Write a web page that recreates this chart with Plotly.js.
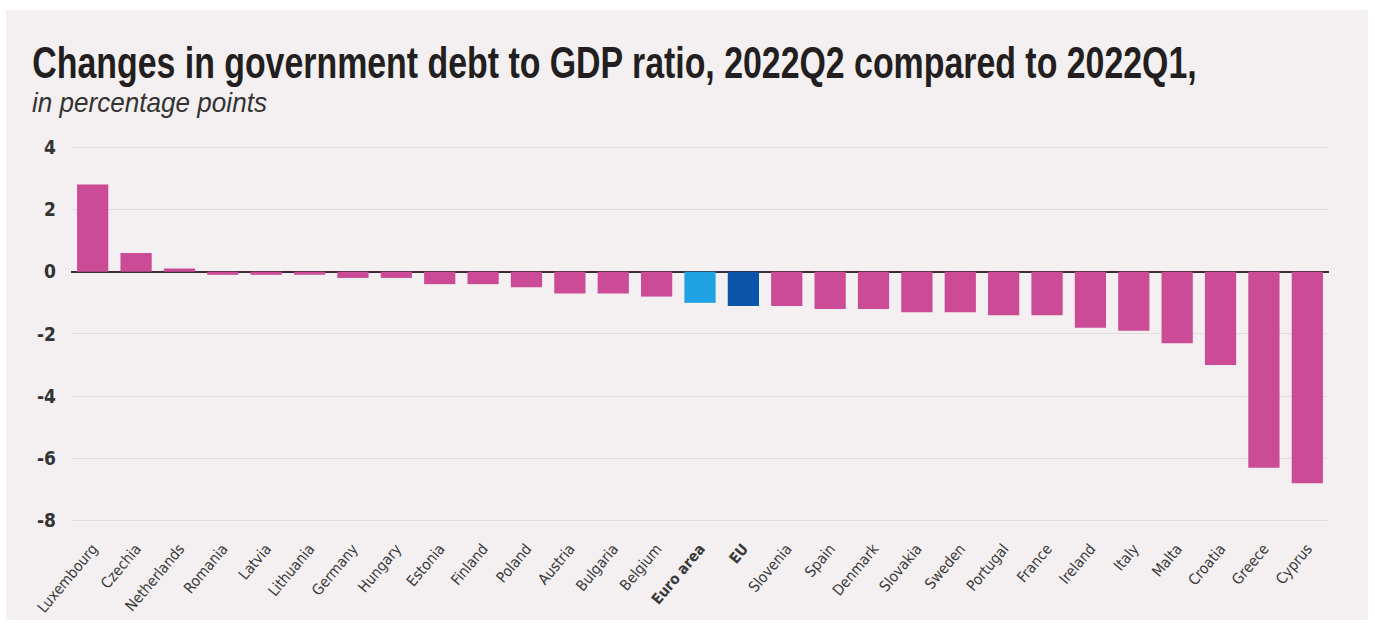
<!DOCTYPE html>
<html>
<head>
<meta charset="utf-8">
<script src="https://cdn.plot.ly/plotly-3.0.1.min.js"></script>
<style>
  html, body { margin: 0; padding: 0; background: #ffffff; }
  #chart { position: absolute; left: 6px; top: 10px; width: 1362px; height: 610px; }
</style>
</head>
<body>
<div id="chart"></div>
<script>
const countries = ["Luxembourg","Czechia","Netherlands","Romania","Latvia","Lithuania","Germany","Hungary","Estonia","Finland","Poland","Austria","Bulgaria","Belgium","Euro area","EU","Slovenia","Spain","Denmark","Slovakia","Sweden","Portugal","France","Ireland","Italy","Malta","Croatia","Greece","Cyprus"];
const changes = [2.8, 0.6, 0.1, -0.1, -0.1, -0.1, -0.2, -0.2, -0.4, -0.4, -0.5, -0.7, -0.7, -0.8, -1.0, -1.1, -1.1, -1.2, -1.2, -1.3, -1.3, -1.4, -1.4, -1.8, -1.9, -2.3, -3.0, -6.3, -6.8];
const yTicks = [4, 2, 0, -2, -4, -6, -8];

const pink = "#cc4b97", euroBlue = "#1ea2e3", euBlue = "#0b55a8";
const colors = countries.map(c => c === "Euro area" ? euroBlue : (c === "EU" ? euBlue : pink));
const tickText = countries.map(c => (c === "Euro area" || c === "EU") ? "<b>" + c + "</b>" : c);

const cond = "DejaVu Sans Condensed, Liberation Sans Narrow, sans-serif";
const sans = "Liberation Sans, Arial, sans-serif";

const trace = {
  type: "bar",
  x: countries,
  y: changes,
  marker: { color: colors, line: { width: 0 } },
  hoverinfo: "x+y"
};

const layout = {
  width: 1362, height: 610,
  paper_bgcolor: "#f4f0f1",
  plot_bgcolor: "#f4f0f1",
  margin: { l: 65.3, r: 38.7, t: 130.8, b: 90.45 },
  bargap: 0.28,
  showlegend: false,
  xaxis: {
    type: "category",
    tickvals: countries,
    ticktext: tickText,
    tickangle: -50,
    tickfont: { family: cond, size: 15, color: "#3a3a3a" },
    ticklabelstandoff: 6,
    showgrid: false,
    zeroline: false,
    showline: false,
    ticks: "",
    fixedrange: true
  },
  yaxis: {
    range: [-8.3, 4.2],
    tickvals: yTicks,
    ticktext: yTicks.map(String),
    tickfont: { family: cond, size: 19, color: "#333333", weight: "bold" },
    showgrid: true,
    gridcolor: "#e2dee0",
    gridwidth: 1,
    zeroline: true,
    zerolinecolor: "#3a2b35",
    zerolinewidth: 2,
    showline: false,
    ticks: "",
    ticklabelstandoff: 14,
    fixedrange: true
  },
  annotations: [
    {
      xref: "paper", yref: "paper",
      x: -0.0328, y: 1.203, xanchor: "left", yanchor: "middle",
      text: "<b>Changes in government debt to GDP ratio, 2022Q2 compared to 2022Q1,</b>",
      showarrow: false,
      font: { family: sans, size: 44, color: "#231f20" }
    },
    {
      xref: "paper", yref: "paper",
      x: -0.0328, y: 1.097, xanchor: "left", yanchor: "middle",
      text: "<i>in percentage points</i>",
      showarrow: false,
      font: { family: sans, size: 27, color: "#333333" }
    }
  ]
};

// horizontally condense the title texts to the reference's narrow type width
const targetWidths = [1165, 235];
Plotly.newPlot("chart", [trace], layout, { displayModeBar: false, staticPlot: true }).then(gd => {
  const texts = gd.querySelectorAll(".annotation-text");
  texts.forEach((t, i) => {
    const bb = t.getBBox();
    const s = targetWidths[i] / bb.width;
    const x0 = bb.x;
    t.setAttribute("transform", `translate(${x0},0) scale(${s},1) translate(${-x0},0)`);
  });
});
</script>
</body>
</html>
